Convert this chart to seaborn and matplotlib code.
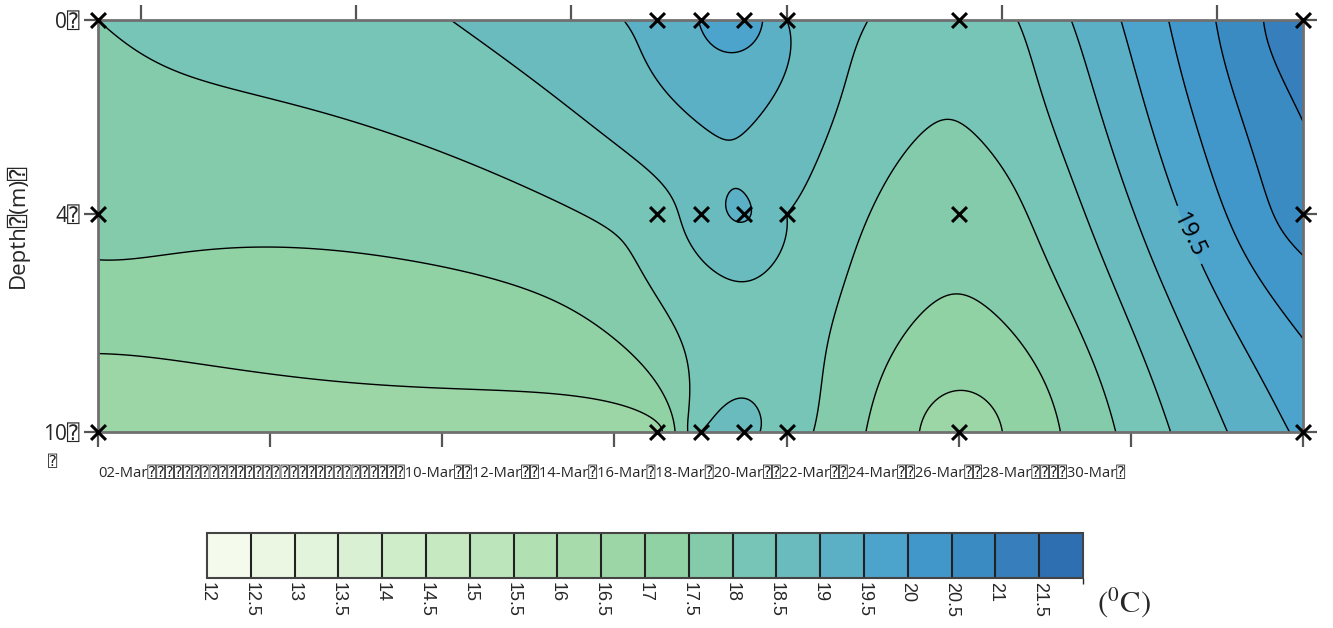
import numpy as np
import pandas as pd
import matplotlib
matplotlib.use("Agg")
import matplotlib.pyplot as plt
import seaborn as sns

# Sampling days (day of March) and sampling depths (m)
sample_days = [2, 15, 16, 17, 18, 22, 30]
depths = [0, 4, 10]

# Water temperature (deg C) at each sampling depth
temp_0m = [18.0, 19.12, 19.52, 19.9, 19.0, 18.02, 21.4]
temp_4m = [17.75, 18.2, 18.8, 19.1, 18.5, 17.6, 20.8]
temp_10m = [16.6, 16.8, 18.5, 18.65, 18.25, 16.65, 19.6]

levels = np.arange(12, 22.01, 0.5)
labelled_level = 19.5
colorbar_ticks = np.arange(12, 21.51, 0.5)

# One fill colour per 0.5 deg band, 12 -> 22
band_colors = ["#f4fbec", "#ebf7e3", "#e2f4dc", "#d9f0d3", "#d0edca",
               "#c6e9c2", "#bce5bb", "#b1e0b3", "#a7dbac", "#9dd6a6",
               "#90d2a4", "#84cbab", "#76c5b6", "#69bbbe", "#5bb0c6",
               "#4ca4cd", "#4197c9", "#3b8bc3", "#367ebc", "#2e6fb2"]

bottom_tick_days = [2, 6, 10, 14, 18, 22, 26, 30]
top_tick_days = [3, 8, 13, 18, 23, 28]

BOX = "\u2370"  # placeholder glyph printed in the original labels
depth_tick_labels = ["0" + BOX, "4" + BOX, "10" + BOX]
depth_title = "Depth" + BOX + "(m)" + BOX

date_labels = ["02-Mar", "10-Mar", "12-Mar", "14-Mar", "16-Mar", "18-Mar",
               "20-Mar", "22-Mar", "24-Mar", "26-Mar", "28-Mar", "30-Mar"]
date_gaps = [29, 2, 2, 1, 1, 1, 2, 2, 2, 2, 4, 1]

sns.set_theme(style="white")
FAMILIES = ["Open Sans", "DejaVu Sans", "DejaVu Sans Mono"]
plt.rcParams["font.family"] = FAMILIES
plt.rcParams["mathtext.fontset"] = "stix"

df = pd.DataFrame({
    "day": np.tile(sample_days, len(depths)),
    "depth": np.repeat(depths, len(sample_days)),
    "temp": np.concatenate([temp_0m, temp_4m, temp_10m]),
})

# Depth axis: 0, 4 and 10 m are spaced unevenly on the section
depth_pos = [0.0, 0.4709, 1.0]


def depth_fwd(d):
    return np.interp(d, depths, depth_pos)


def depth_inv(p):
    return np.interp(p, depth_pos, depths)


# Ordinary kriging with a linear variogram, in display proportions
ASPECT = 1205 / 412


def to_plane(day, depth):
    return (np.asarray(day) - 2) / 28 * ASPECT, depth_fwd(depth)


def krige_grid(px, py, pz, gx, gy):
    n = len(px)
    G = np.hypot(px[:, None] - px[None, :], py[:, None] - py[None, :])
    A = np.ones((n + 1, n + 1))
    A[:n, :n] = G
    A[n, n] = 0.0
    coef = np.linalg.solve(A, np.concatenate([pz, [0.0]]))
    w, c = coef[:n], coef[n]
    dist = np.hypot(gx[..., None] - px, gy[..., None] - py)
    return dist @ w + c


px, py = to_plane(df["day"].values, df["depth"].values)
gdays = np.linspace(2, 30, 700)
gdepth = depth_inv(np.linspace(0, 1, 320))
GD, GZ = np.meshgrid(gdays, gdepth)
gx, gy = to_plane(GD, GZ)
field = krige_grid(px, py, df["temp"].values, gx, gy)

cmap = matplotlib.colors.ListedColormap(sns.color_palette(band_colors))
norm = matplotlib.colors.BoundaryNorm(levels, cmap.N)

fig = plt.figure(figsize=(13.33, 6.28), dpi=100)
ax = fig.add_axes([98 / 1333, 1 - 432 / 628, 1205 / 1333, 412 / 628])
ax.set_yscale("function", functions=(depth_fwd, depth_inv))

cf = ax.contourf(GD, GZ, field, levels=levels, cmap=cmap, norm=norm)
ax.contour(GD, GZ, field, levels=levels[levels != labelled_level],
           colors="black", linewidths=1.0)
cs_lab = ax.contour(GD, GZ, field, levels=[labelled_level], colors="black",
                    linewidths=1.0)
lab = ax.clabel(cs_lab, manual=[(27.1, 4.7)], fmt="%g", fontsize=17,
                inline=True, inline_spacing=8)
for t in lab:
    t.set_rotation(-64)

sns.scatterplot(data=df, x="day", y="depth", ax=ax, marker="x", color="black",
                s=115, linewidth=2.2, legend=False, clip_on=False, zorder=5)

ax.set_xlim(2, 30)
ax.set_ylim(10, 0)
ax.set_xticks(bottom_tick_days, labels=[""] * len(bottom_tick_days))
ax.set_yticks(depths, labels=depth_tick_labels)
ax.minorticks_off()
ax.tick_params(axis="x", which="major", direction="out", length=11, width=1.6,
               color="#555555", bottom=True)
ax.tick_params(axis="y", which="major", direction="out", length=10, width=1.6,
               color="#555555", left=True, right=True, labelsize=15, pad=3)
ax.set_xlabel("")
ax.set_ylabel(depth_title, fontsize=16)
ax.yaxis.set_label_coords(-0.057, 0.5)
for sp in ax.spines.values():
    sp.set_color("#707070")
    sp.set_linewidth(2)

top = ax.secondary_xaxis("top", functions=(lambda x: x, lambda x: x))
top.set_xticks(top_tick_days, labels=[""] * len(top_tick_days))
top.tick_params(direction="out", length=11, width=1.6, color="#555555")
top.spines["top"].set_visible(False)

# Date row under the section
row = "".join(lbl + BOX * n for lbl, n in zip(date_labels, date_gaps))
fig.text(98 / 1333, 1 - 477 / 628, row, fontsize=10.6, va="baseline",
         ha="left")
fig.text(48 / 1333, 1 - 466 / 628, BOX, fontsize=11, va="baseline", ha="left")

# Colour scale
cax = fig.add_axes([207 / 1333, 1 - 578 / 628, 876 / 1333, 45 / 628])
cb = fig.colorbar(cf, cax=cax, orientation="horizontal", ticks=colorbar_ticks,
                  drawedges=True)
cb.dividers.set_color("#222222")
cb.dividers.set_linewidth(1.5)
cb.outline.set_edgecolor("#444444")
cb.outline.set_linewidth(1.5)
cb.ax.tick_params(length=0, pad=3)
cb.ax.set_xticklabels([f"{t:g}" for t in colorbar_ticks], rotation=-90,
                      fontsize=13, family="Liberation Sans")
fig.text(1097 / 1333, 1 - 612 / 628, r"$(^{0}\mathrm{C})$", fontsize=22,
         va="baseline", ha="left")

fig.savefig("out.png", dpi=100)
